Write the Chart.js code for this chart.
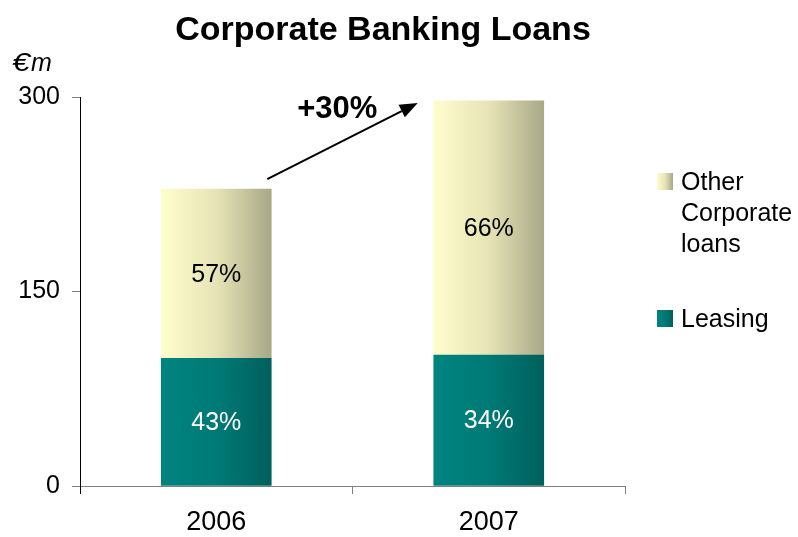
<!DOCTYPE html>
<html>
<head>
<meta charset="utf-8">
<script src="https://cdn.jsdelivr.net/npm/chart.js@4/dist/chart.umd.min.js"></script>
<style>
  body { margin: 0; background: #fff; }
  canvas { display: block; }
</style>
</head>
<body>
<canvas id="loans" width="798" height="537"></canvas>
<script>
const TITLE = 'Corporate Banking Loans';
const UNIT = ['€', 'm'];
const years = ['2006', '2007'];
const leasing = [98.5, 101];
const otherCorporate = [130.5, 196];
const yTicks = [0, 150, 300];
const legendOther = ['Other', 'Corporate', 'loans'];
const legendLeasing = ['Leasing'];

const FONT = '"Liberation Sans", Arial, sans-serif';
const BAR_WIDTH = 110;

// colour stops of the horizontal shading on each bar
const OTHER_STOPS = ['#fffdcc', '#e6e4b6', '#a8a888'];
const LEASING_STOPS = ['#008480', '#007a76', '#00605c'];

const totals = years.map((_, i) => leasing[i] + otherCorporate[i]);

function shade(ctx, x0, x1, stops) {
  const g = ctx.createLinearGradient(x0, 0, x1, 0);
  stops.forEach((c, i) => g.addColorStop(i / (stops.length - 1), c));
  return g;
}

function barFill(stops) {
  return (context) => {
    const chart = context.chart;
    if (!chart.chartArea || !chart.scales.x) return stops[0];
    const x = chart.scales.x.getPixelForValue(context.dataIndex);
    return shade(chart.ctx, x - BAR_WIDTH / 2, x + BAR_WIDTH / 2, stops);
  };
}

const decorations = {
  id: 'decorations',
  afterDatasetsDraw(chart) {
    const ctx = chart.ctx;
    ctx.save();
    ctx.font = '25px ' + FONT;
    ctx.textAlign = 'center';
    ctx.textBaseline = 'middle';
    chart.data.datasets.forEach((ds, di) => {
      chart.getDatasetMeta(di).data.forEach((el, i) => {
        const pct = Math.round(ds.data[i] / totals[i] * 100) + '%';
        ctx.fillStyle = di === 0 ? '#ffffff' : '#000000';
        ctx.fillText(pct, el.x, (el.y + el.base) / 2 + 1);
      });
    });
    ctx.restore();
  },
  afterDraw(chart) {
    const ctx = chart.ctx;
    const area = chart.chartArea;
    ctx.save();

    // title
    ctx.fillStyle = '#000';
    ctx.font = 'bold 34px ' + FONT;
    ctx.textAlign = 'center';
    ctx.textBaseline = 'alphabetic';
    ctx.fillText(TITLE, 383, 40);

    // unit: a wide euro sign followed by an italic m
    ctx.font = 'italic 25px ' + FONT;
    ctx.textAlign = 'left';
    const euroW = ctx.measureText(UNIT[0]).width;
    ctx.save();
    ctx.translate(12, 71);
    ctx.scale(18 / euroW, 1);
    ctx.fillText(UNIT[0], 0, 0);
    ctx.restore();
    ctx.fillText(UNIT[1], 31, 71);

    // y axis runs a little below the x axis
    ctx.strokeStyle = '#000';
    ctx.lineWidth = 1;
    ctx.beginPath();
    ctx.moveTo(area.left + 0.5, area.bottom);
    ctx.lineTo(area.left + 0.5, area.bottom + 8);
    ctx.stroke();

    // growth arrow between the two totals
    const top = chart.getDatasetMeta(1).data;
    const x0 = top[0].x + BAR_WIDTH / 2 - 4;
    const y0 = top[0].y - 10;
    const x1 = top[1].x - BAR_WIDTH / 2 - 16;
    const y1 = top[1].y + 2;
    const ang = Math.atan2(y1 - y0, x1 - x0);
    const headLen = 18, headHalf = 7;
    const bx = x1 - headLen * Math.cos(ang);
    const by = y1 - headLen * Math.sin(ang);
    ctx.strokeStyle = '#000';
    ctx.lineWidth = 2;
    ctx.beginPath();
    ctx.moveTo(x0, y0);
    ctx.lineTo(bx, by);
    ctx.stroke();
    ctx.fillStyle = '#000';
    ctx.beginPath();
    ctx.moveTo(x1, y1);
    ctx.lineTo(bx + headHalf * Math.sin(ang), by - headHalf * Math.cos(ang));
    ctx.lineTo(bx - headHalf * Math.sin(ang), by + headHalf * Math.cos(ang));
    ctx.closePath();
    ctx.fill();

    const growth = Math.round((totals[1] / totals[0] - 1) * 100);
    ctx.font = 'bold 31px ' + FONT;
    ctx.textAlign = 'center';
    ctx.fillText('+' + growth + '%', x0 + 70, y1 + 15);

    // legend
    const lx = 657, tx = 681;
    ctx.fillStyle = shade(ctx, lx, lx + 16, OTHER_STOPS);
    ctx.fillRect(lx, 173, 16, 17);
    ctx.fillStyle = shade(ctx, lx, lx + 16, LEASING_STOPS);
    ctx.fillRect(lx, 310, 16, 17);
    ctx.fillStyle = '#000';
    ctx.font = '25px ' + FONT;
    ctx.textAlign = 'left';
    legendOther.forEach((line, i) => ctx.fillText(line, tx, 190 + i * 31));
    legendLeasing.forEach((line, i) => ctx.fillText(line, tx, 327 + i * 31));

    ctx.restore();
  }
};

new Chart(document.getElementById('loans'), {
  type: 'bar',
  data: {
    labels: years,
    datasets: [
      {
        label: 'Leasing',
        data: leasing,
        backgroundColor: barFill(LEASING_STOPS),
        barThickness: BAR_WIDTH
      },
      {
        label: 'Other Corporate loans',
        data: otherCorporate,
        backgroundColor: barFill(OTHER_STOPS),
        barThickness: BAR_WIDTH
      }
    ]
  },
  options: {
    responsive: false,
    animation: false,
    devicePixelRatio: 1,
    layout: { padding: { top: 97, right: 173, left: 0, bottom: 0 } },
    plugins: {
      legend: { display: false },
      title: { display: false },
      tooltip: { enabled: false }
    },
    scales: {
      x: {
        stacked: true,
        border: { color: '#808080', width: 1 },
        grid: { offset: true, drawOnChartArea: false, tickLength: 8, color: '#808080' },
        ticks: { color: '#000', font: { family: FONT, size: 27 }, padding: 12, maxRotation: 0 },
        afterFit(scale) { scale.height = 51; }
      },
      y: {
        stacked: true,
        min: 0,
        max: 300,
        border: { color: '#000', width: 1 },
        grid: { drawOnChartArea: false, tickLength: 8, color: '#808080' },
        ticks: { color: '#000', font: { family: FONT, size: 25 }, padding: 12 },
        afterBuildTicks(scale) { scale.ticks = yTicks.map(v => ({ value: v })); },
        afterFit(scale) { scale.width = 80; }
      }
    }
  },
  plugins: [decorations]
});
</script>
</body>
</html>
